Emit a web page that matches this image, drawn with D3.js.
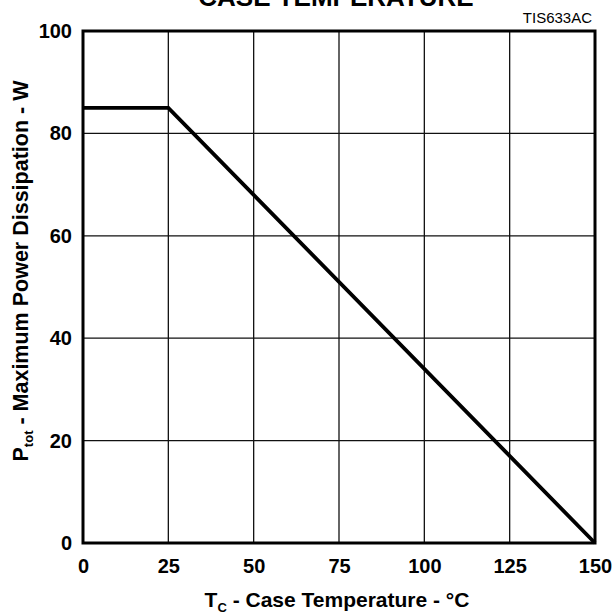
<!DOCTYPE html>
<html>
<head>
<meta charset="utf-8">
<script src="https://cdnjs.cloudflare.com/ajax/libs/d3/7.8.5/d3.min.js"></script>
<style>
  body { margin: 0; background: #fff; }
  svg text { font-family: "Liberation Sans", Arial, sans-serif; fill: #000; }
  .axis-title { font-size: 21px; font-weight: bold; }
</style>
</head>
<body>
<div id="chart"></div>
<script>
"use strict";

// derating curve (case temperature in degC, power in W)
var caseTemp = [0, 25, 150];
var powerW = [85, 85, 0];

var xTicks = [0, 25, 50, 75, 100, 125, 150];
var yTicks = [0, 20, 40, 60, 80, 100];

var chartTitle = "CASE TEMPERATURE";
var figureCode = "TIS633AC";

var width = 615, height = 616;
var plot = {left: 83, right: 595, top: 31, bottom: 543};

var svg = d3.select("#chart")
    .append("svg")
    .attr("width", width)
    .attr("height", height);

var xScale = d3.scaleLinear()
    .domain([0, 150])
    .range([plot.left, plot.right]);

var yScale = d3.scaleLinear()
    .domain([0, 100])
    .range([plot.bottom, plot.top]);

// grid
svg.append("g")
    .selectAll("line")
    .data(xTicks.slice(1, -1))
    .enter()
    .append("line")
    .attr("x1", function(d){ return xScale(d); })
    .attr("x2", function(d){ return xScale(d); })
    .attr("y1", plot.top)
    .attr("y2", plot.bottom)
    .style("stroke", "#111")
    .style("stroke-width", 1.3);

svg.append("g")
    .selectAll("line")
    .data(yTicks.slice(1, -1))
    .enter()
    .append("line")
    .attr("y1", function(d){ return yScale(d); })
    .attr("y2", function(d){ return yScale(d); })
    .attr("x1", plot.left)
    .attr("x2", plot.right)
    .style("stroke", "#111")
    .style("stroke-width", 1.3);

// frame
svg.append("rect")
    .attr("x", plot.left)
    .attr("y", plot.top)
    .attr("width", plot.right - plot.left)
    .attr("height", plot.bottom - plot.top)
    .style("fill", "none")
    .style("stroke", "#000")
    .style("stroke-width", 3);

// tick labels
function styleTicks(g){
    g.select(".domain").remove();
    g.selectAll("text")
        .style("font-size", "20px")
        .style("font-family", "Liberation Sans, Arial, sans-serif")
        .style("font-weight", "bold")
        .style("fill", "#000");
}

var xAxis = d3.axisBottom(xScale).tickValues(xTicks).tickSize(0).tickPadding(16);
svg.append("g")
    .attr("transform", "translate(0," + plot.bottom + ")")
    .call(xAxis)
    .call(styleTicks);

var yAxis = d3.axisLeft(yScale).tickValues(yTicks).tickSize(0).tickPadding(11);
svg.append("g")
    .attr("transform", "translate(" + plot.left + ",0)")
    .call(yAxis)
    .call(styleTicks);

// curve
var line = d3.line()
    .x(function(d, i){ return xScale(caseTemp[i]); })
    .y(function(d){ return yScale(d); });

svg.append("path")
    .datum(powerW)
    .attr("d", line)
    .style("fill", "none")
    .style("stroke", "#000")
    .style("stroke-width", 3.8)
    .style("stroke-linejoin", "miter");

// titles
svg.append("text")
    .attr("x", 336)
    .attr("y", 6)
    .attr("text-anchor", "middle")
    .style("font-size", "26px")
    .style("font-weight", "bold")
    .text(chartTitle);

svg.append("text")
    .attr("x", 592)
    .attr("y", 22.5)
    .attr("text-anchor", "end")
    .style("font-size", "15px")
    .text(figureCode);

var xTitle = svg.append("text")
    .attr("class", "axis-title")
    .attr("x", 337)
    .attr("y", 607)
    .attr("text-anchor", "middle");
xTitle.append("tspan").text("T");
xTitle.append("tspan").attr("dy", 5).style("font-size", "13px").text("C");
xTitle.append("tspan").attr("dy", -5).text(" - Case Temperature - °C");

var yTitle = svg.append("text")
    .attr("class", "axis-title")
    .style("font-size", "21.5px")
    .attr("transform", "translate(28,271) rotate(-90)")
    .attr("text-anchor", "middle");
yTitle.append("tspan").text("P");
yTitle.append("tspan").attr("dy", 5).style("font-size", "13px").text("tot");
yTitle.append("tspan").attr("dy", -5).text(" - Maximum Power Dissipation - W");
</script>
</body>
</html>
